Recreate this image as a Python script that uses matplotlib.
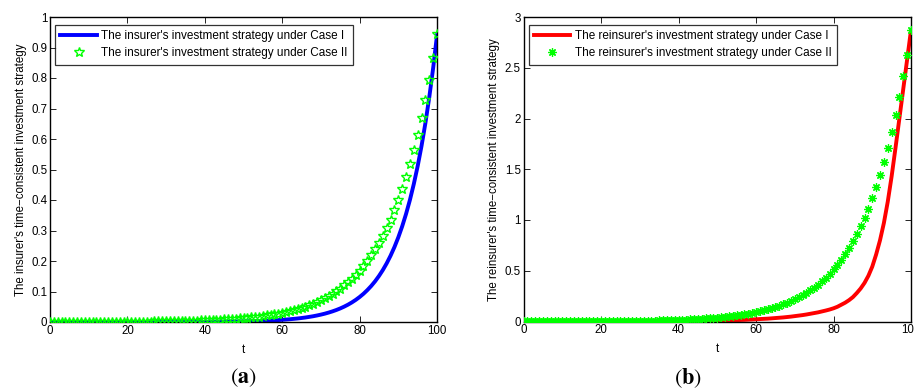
import matplotlib
matplotlib.use("Agg")
import matplotlib.pyplot as plt
import numpy as np

plt.rcParams["font.family"] = ["Liberation Sans", "DejaVu Sans"]
plt.rcParams["mathtext.fontset"] = "stix"

# time grid (t = 0 .. 100)
t = list(range(0, 101))

insurer_case1 = [
    0.0, 0.0, 0.0, 0.0, 0.0, 0.0, 0.0, 0.0, 0.0, 0.0,
    0.0, 0.0, 0.0, 0.0, 0.0, 0.0, 0.0, 0.0, 0.0, 0.0,
    0.0001, 0.0001, 0.0001, 0.0001, 0.0001, 0.0001, 0.0001, 0.0001, 0.0001, 0.0001,
    0.0002, 0.0002, 0.0002, 0.0003, 0.0003, 0.0003, 0.0004, 0.0004, 0.0005, 0.0005,
    0.0006, 0.0007, 0.0008, 0.0009, 0.0010, 0.0011, 0.0013, 0.0015, 0.0017, 0.0019,
    0.0021, 0.0024, 0.0027, 0.0030, 0.0034, 0.0039, 0.0044, 0.0050, 0.0056, 0.0063,
    0.0071, 0.0081, 0.0091, 0.0103, 0.0116, 0.0131, 0.0148, 0.0168, 0.0189, 0.0214,
    0.0242, 0.0273, 0.0309, 0.0349, 0.0394, 0.0445, 0.0503, 0.0568, 0.0642, 0.0725,
    0.0819, 0.0925, 0.1046, 0.1181, 0.1334, 0.1508, 0.1703, 0.1924, 0.2174, 0.2456,
    0.2775, 0.3135, 0.3542, 0.4001, 0.4521, 0.5107, 0.5770, 0.6519, 0.7365, 0.8320,
    0.9400,
]

insurer_case2 = [
    0.0002, 0.0002, 0.0002, 0.0002, 0.0002, 0.0002, 0.0003, 0.0003, 0.0003, 0.0004,
    0.0004, 0.0004, 0.0005, 0.0005, 0.0006, 0.0006, 0.0007, 0.0007, 0.0008, 0.0009,
    0.0010, 0.0011, 0.0012, 0.0013, 0.0014, 0.0015, 0.0016, 0.0018, 0.0019, 0.0021,
    0.0023, 0.0025, 0.0027, 0.0030, 0.0032, 0.0035, 0.0038, 0.0042, 0.0046, 0.0050,
    0.0054, 0.0059, 0.0064, 0.0070, 0.0076, 0.0083, 0.0091, 0.0099, 0.0108, 0.0117,
    0.0128, 0.0139, 0.0152, 0.0165, 0.0180, 0.0196, 0.0214, 0.0233, 0.0254, 0.0277,
    0.0302, 0.0329, 0.0359, 0.0391, 0.0426, 0.0465, 0.0506, 0.0552, 0.0601, 0.0655,
    0.0714, 0.0778, 0.0848, 0.0925, 0.1008, 0.1098, 0.1197, 0.1304, 0.1422, 0.1549,
    0.1688, 0.1840, 0.2005, 0.2185, 0.2382, 0.2596, 0.2829, 0.3083, 0.3360, 0.3661,
    0.3990, 0.4349, 0.4739, 0.5165, 0.5629, 0.6134, 0.6685, 0.7285, 0.7940, 0.8653,
    0.9430,
]

reinsurer_case1 = [
    0.0001, 0.0001, 0.0001, 0.0001, 0.0001, 0.0002, 0.0002, 0.0002, 0.0002, 0.0003,
    0.0003, 0.0003, 0.0003, 0.0004, 0.0004, 0.0004, 0.0005, 0.0005, 0.0005, 0.0006,
    0.0006, 0.0006, 0.0007, 0.0007, 0.0008, 0.0009, 0.0009, 0.0010, 0.0011, 0.0012,
    0.0013, 0.0015, 0.0016, 0.0018, 0.0019, 0.0021, 0.0023, 0.0025, 0.0027, 0.0030,
    0.0033, 0.0036, 0.0039, 0.0043, 0.0047, 0.0051, 0.0056, 0.0061, 0.0067, 0.0073,
    0.008, 0.009, 0.010, 0.011, 0.012, 0.013, 0.015, 0.016, 0.018, 0.020,
    0.022, 0.024, 0.026, 0.028, 0.031, 0.034, 0.037, 0.040, 0.044, 0.048,
    0.053, 0.058, 0.063, 0.069, 0.076, 0.083, 0.090, 0.099, 0.108, 0.118,
    0.13, 0.145, 0.165, 0.185, 0.21, 0.24, 0.28, 0.325, 0.38, 0.45,
    0.54, 0.66, 0.80, 0.97, 1.18, 1.43, 1.71, 2.00, 2.29, 2.58,
    2.87,
]

reinsurer_case2 = [
    0.0006, 0.0006, 0.0007, 0.0007, 0.0008, 0.0009, 0.0009, 0.0010, 0.0011, 0.0012,
    0.0013, 0.0014, 0.0015, 0.0017, 0.0018, 0.0020, 0.0022, 0.0024, 0.0026, 0.0028,
    0.0030, 0.0033, 0.0036, 0.0039, 0.0043, 0.0046, 0.0050, 0.0055, 0.0060, 0.0065,
    0.0070, 0.0076, 0.0082, 0.0091, 0.0097, 0.0106, 0.0116, 0.0128, 0.0140, 0.0152,
    0.0164, 0.0179, 0.0195, 0.0213, 0.0231, 0.0252, 0.0277, 0.0301, 0.0328, 0.0356,
    0.0389, 0.0423, 0.0462, 0.0502, 0.0547, 0.0596, 0.0651, 0.0708, 0.0772, 0.0842,
    0.0918, 0.1000, 0.1091, 0.1189, 0.1295, 0.1414, 0.1538, 0.1678, 0.1827, 0.1991,
    0.2171, 0.2365, 0.2578, 0.2812, 0.3064, 0.3338, 0.3639, 0.3964, 0.4323, 0.4709,
    0.5132, 0.5594, 0.6095, 0.6642, 0.7241, 0.7892, 0.8600, 0.9372, 1.0214, 1.1129,
    1.2130, 1.3221, 1.4407, 1.5702, 1.7112, 1.8647, 2.0322, 2.2146, 2.4138, 2.6305,
    2.8700,
]

x_ticks = [0, 20, 40, 60, 80, 100]
left_yticks = [0, 0.1, 0.2, 0.3, 0.4, 0.5, 0.6, 0.7, 0.8, 0.9, 1]
left_ylabels = ["0", "0.1", "0.2", "0.3", "0.4", "0.5", "0.6", "0.7", "0.8", "0.9", "1"]
right_yticks = [0, 0.5, 1, 1.5, 2, 2.5, 3]
right_ylabels = ["0", "0.5", "1", "1.5", "2", "2.5", "3"]

green = "#00ff00"
fs = 8.3

fig = plt.figure(figsize=(9.14, 3.92), dpi=100)
ax1 = fig.add_axes([50 / 914, 1 - 322 / 392, 387 / 914, 305 / 392])
ax2 = fig.add_axes([523.5 / 914, 1 - 321.5 / 392, 387.5 / 914, 304.5 / 392])


def style_axes(ax, yticks, ylabels, ylim):
    ax.set_xlim(0, 100)
    ax.set_ylim(*ylim)
    ax.set_xticks(x_ticks)
    ax.set_xticklabels([str(v) for v in x_ticks])
    ax.set_yticks(yticks)
    ax.set_yticklabels(ylabels)
    ax.tick_params(direction="in", top=True, right=True, labelsize=fs,
                   length=4, width=0.6, pad=2)
    for s in ax.spines.values():
        s.set_linewidth(1.0)
    ax.set_xlabel("t", fontsize=fs, labelpad=5)


def add_legend(ax):
    leg = ax.legend(loc="upper left", bbox_to_anchor=(5 / 387, 1 - 8 / 305),
                    fontsize=8.5, frameon=True, fancybox=False, edgecolor="black",
                    borderpad=0.45, handlelength=3.1, handletextpad=0.35,
                    labelspacing=0.42, borderaxespad=0)
    leg.get_frame().set_linewidth(0.9)
    return leg


ax1.plot(t, insurer_case1, color="#0000ff", lw=2.8,
         label="The insurer's investment strategy under Case I", zorder=2)
ax1.plot(t, insurer_case2, linestyle="none", marker="*", markersize=7.5,
         markerfacecolor="none", markeredgecolor=green, markeredgewidth=1.0,
         label="The insurer's investment strategy under Case II", zorder=3)
style_axes(ax1, left_yticks, left_ylabels, (0, 1))
ax1.set_ylabel("The insurer's time\u2212consistent investment strategy", fontsize=fs, labelpad=3)
add_legend(ax1)

ax2.plot(t, reinsurer_case1, color="#ff0000", lw=2.8,
         label="The reinsurer's investment strategy under Case I", zorder=2)
ax2.plot(t, reinsurer_case2, linestyle="none", marker=(8, 2, 0), markersize=6,
         markeredgecolor=green, markeredgewidth=0.9,
         label="The reinsurer's investment strategy under Case II", zorder=3)
style_axes(ax2, right_yticks, right_ylabels, (0, 3))
ax2.set_ylabel("The reinsurer's time\u2212consistent investment strategy", fontsize=fs, labelpad=3)
add_legend(ax2)

fig.text(243 / 914, 1 - 378 / 392, r"$(\mathbf{a})$", fontsize=16,
         ha="center", va="center")
fig.text(688 / 914, 1 - 378 / 392, r"$(\mathbf{b})$", fontsize=16,
         ha="center", va="center")

fig.savefig("out.png", dpi=100)
